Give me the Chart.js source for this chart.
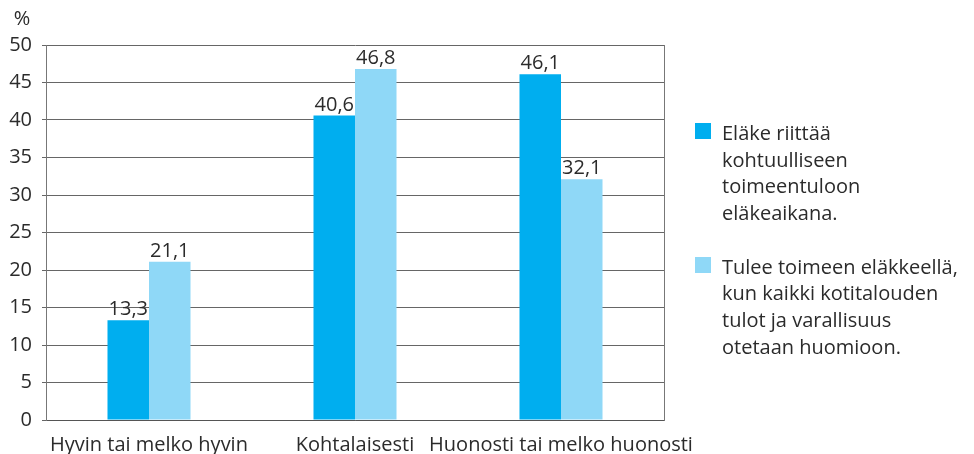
<!DOCTYPE html>
<html>
<head>
<meta charset="utf-8">
<script src="https://cdn.jsdelivr.net/npm/chart.js@4.4.0/dist/chart.umd.min.js"></script>
<style>
  body { margin: 0; background: #fff; font-family: "Open Sans", sans-serif; }
  #wrap { position: relative; width: 974px; height: 454px; }
  #legend { position: absolute; left: 695px; top: 120px; color: #2b2b2b; font-size: 20px; line-height: 26.7px; }
  .item { display: flex; margin-bottom: 26.7px; }
  .box { width: 16px; height: 16px; margin-top: 3px; margin-right: 11px; flex: none; }
</style>
</head>
<body>
<div id="wrap">
  <canvas id="chart" width="974" height="454"></canvas>
  <div id="legend"></div>
</div>
<script>
const categories = ['Hyvin tai melko hyvin', 'Kohtalaisesti', 'Huonosti tai melko huonosti'];
const pensionEnough = [13.3, 40.6, 46.1];
const householdIncome = [21.1, 46.8, 32.1];
const seriesNames = [
    ['Eläke riittää', 'kohtuulliseen', 'toimeentuloon', 'eläkeaikana.'],
    ['Tulee toimeen eläkkeellä,', 'kun kaikki kotitalouden', 'tulot ja varallisuus', 'otetaan huomioon.']
];
const colors = ['#00aeef', '#8fd8f7'];
const yTicks = { min: 0, max: 50, step: 5 };

const font = { family: '"Open Sans", sans-serif', size: 20 };

// value labels above bars + the % unit label
const labelPlugin = {
    id: 'labels',
    afterDatasetsDraw(chart) {
        const ctx = chart.ctx;
        ctx.save();
        ctx.font = '20px "Open Sans", sans-serif';
        ctx.fillStyle = '#2b2b2b';
        ctx.textAlign = 'center';
        ctx.textBaseline = 'alphabetic';
        chart.data.datasets.forEach((ds, i) => {
            chart.getDatasetMeta(i).data.forEach((bar, j) => {
                ctx.fillText(ds.data[j].toFixed(1).replace('.', ','), bar.x, bar.y - 5);
            });
        });
        ctx.fillText('%', 22, 25);
        ctx.restore();
    }
};

new Chart(document.getElementById('chart'), {
    type: 'bar',
    data: {
        labels: categories,
        datasets: [
            { label: seriesNames[0].join(' '), data: pensionEnough, backgroundColor: colors[0] },
            { label: seriesNames[1].join(' '), data: householdIncome, backgroundColor: colors[1] }
        ]
    },
    options: {
        responsive: false,
        animation: false,
        categoryPercentage: 0.403,
        barPercentage: 1,
        layout: { padding: { top: 45, right: 310, left: 0, bottom: 0 } },
        plugins: { legend: { display: false }, tooltip: { enabled: false } },
        scales: {
            x: {
                grid: { display: false },
                border: { display: true, color: '#555' },
                ticks: { color: '#2b2b2b', font: font, padding: 5, maxRotation: 0, autoSkip: false },
                afterFit(scale) { scale.height = 34; }
            },
            y: {
                min: yTicks.min,
                max: yTicks.max,
                ticks: { stepSize: yTicks.step, color: '#2b2b2b', font: font, padding: 10 },
                grid: { color: '#666', tickLength: 4 },
                border: { color: '#777' },
                afterFit(scale) { scale.width = 46; }
            },
            y2: {
                position: 'right',
                min: yTicks.min,
                max: yTicks.max,
                ticks: { display: false },
                grid: { display: false, drawTicks: false },
                border: { display: true, color: '#777' },
                afterFit(scale) { scale.width = 0; }
            }
        }
    },
    plugins: [labelPlugin]
});

const legend = document.getElementById('legend');
seriesNames.forEach((lines, i) => {
    legend.innerHTML += `<div class="item"><div class="box" style="background:${colors[i]}"></div><div>${lines.join('<br>')}</div></div>`;
});
</script>
</body>
</html>
